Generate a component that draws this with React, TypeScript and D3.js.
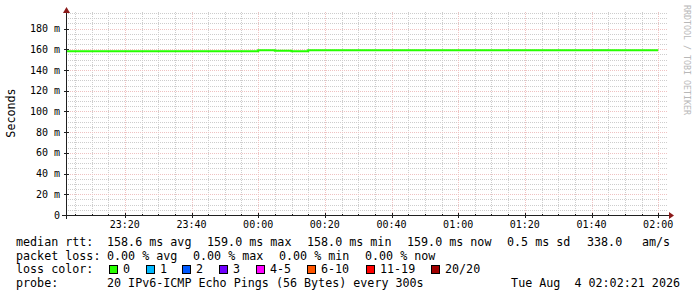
import React from "react";
import * as d3 from "d3";

// median rtt per 5 min step (ms), steps start 23:00 .. 01:55
const stepStarts = [
  "23:00", "23:05", "23:10", "23:15", "23:20", "23:25", "23:30", "23:35", "23:40", "23:45", "23:50", "23:55",
  "00:00", "00:05", "00:10", "00:15", "00:20", "00:25", "00:30", "00:35", "00:40", "00:45", "00:50", "00:55",
  "01:00", "01:05", "01:10", "01:15", "01:20", "01:25", "01:30", "01:35", "01:40", "01:45", "01:50", "01:55",
];
const medianRtt = [
  158.0, 158.0, 158.0, 158.0, 158.0, 158.0, 158.0, 158.0, 158.0, 158.0, 158.0, 158.0,
  159.0, 158.5, 158.0, 159.0, 159.0, 159.0, 159.0, 159.0, 159.0, 159.0, 159.0, 159.0,
  159.0, 159.0, 159.0, 159.0, 159.0, 159.0, 159.0, 159.0, 159.0, 159.0, 159.0, 159.0,
];
// upper edge of the smoke (ms)
const smokeTop = [
  158.0, 158.0, 158.0, 158.0, 158.0, 158.0, 158.0, 158.0, 158.0, 158.0, 158.0, 158.0,
  159.0, 158.5, 158.0, 159.0, 159.0, 159.0, 159.0, 159.0, 159.0, 159.0, 159.0, 159.0,
  159.0, 159.0, 159.0, 159.0, 159.0, 159.0, 159.0, 159.0, 160.2, 159.0, 159.0, 159.0,
];

const yTicks = [0, 20, 40, 60, 80, 100, 120, 140, 160, 180];
const xTickLabels = ["23:20", "23:40", "00:00", "00:20", "00:40", "01:00", "01:20", "01:40", "02:00"];

const lossLabels = ["0", "1", "2", "3", "4-5", "6-10", "11-19", "20/20"];
const lossColors = ["#26ff00", "#00b8ff", "#0059ff", "#7000ff", "#ff00ff", "#ff5500", "#ff0000", "#a10000"];

const rttStats = ["158.6 ms avg", "159.0 ms max", "158.0 ms min", "159.0 ms now", "0.5 ms sd", "338.0", "am/s"];
const lossStats = ["0.00 % avg", "0.00 % max", "0.00 % min", "0.00 % now"];

// helpers: "HH:MM" -> UTC date across midnight
const toDate = (hm: string, sec = 0) => {
  const [h, m] = hm.split(":").map(Number);
  const day = h >= 12 ? 3 : 4;
  return new Date(Date.UTC(2026, 7, day, h, m, sec));
};

const MONO = "'DejaVu Sans Mono', monospace";

export default function App() {
  const left = 66, right = 666, top = 12, bottom = 215;
  const x = d3.scaleUtc().domain([toDate("23:02", 21), toDate("02:02", 21)]).range([left, right]);
  const y = d3.scaleLinear().domain([0, 196]).range([bottom, top]);

  const minorX = d3.utcMinute.every(5)!.range(x.domain()[0], x.domain()[1]);
  const majorX = xTickLabels.map((l) => toDate(l));
  const minorY = d3.range(5, 196, 5).filter((v) => v % 20 !== 0);

  const pts = stepStarts.map((s, i) => ({ t: toDate(s), v: medianRtt[i], s: smokeTop[i] }));
  const endT = toDate("02:00");
  const clipX = (d: Date) => Math.max(left, x(d));

  const linePath = d3
    .line<{ t: Date; v: number }>()
    .x((d) => clipX(d.t))
    .y((d) => y(d.v))
    .curve(d3.curveStepAfter)([...pts, { t: endT, v: medianRtt[medianRtt.length - 1] }]);

  const smoke = pts.filter((p) => p.s > p.v + 0.1);

  const legendX = [107, 207, 307, 407, 507, 587, 642];
  const lossX = [107, 193, 279, 365];
  const boxX = [109, 146, 182, 219, 256, 307, 366, 431];

  return (
    <svg width={697} height={297} style={{ position: "absolute", left: 0, top: 0, background: "#fff" }}>
      <rect width={697} height={297} fill="#fff" />
      {/* minor grid */}
      <g stroke="#cdcdcd" strokeWidth={1} strokeDasharray="1,1" shapeRendering="crispEdges">
        {minorX.map((d, i) => (
          <line key={"vx" + i} x1={Math.round(x(d)) + 0.5} x2={Math.round(x(d)) + 0.5} y1={top} y2={bottom} />
        ))}
        {minorY.map((v) => (
          <line key={"hy" + v} x1={left} x2={668} y1={Math.round(y(v)) + 0.5} y2={Math.round(y(v)) + 0.5} />
        ))}
      </g>
      {/* major grid */}
      <g stroke="#efc2c2" strokeWidth={1} strokeDasharray="1,1" shapeRendering="crispEdges">
        {majorX.map((d, i) => (
          <line key={"mx" + i} x1={Math.round(x(d)) + 0.5} x2={Math.round(x(d)) + 0.5} y1={top} y2={bottom} />
        ))}
        {yTicks.slice(1).map((v) => (
          <line key={"my" + v} x1={left} x2={668} y1={Math.round(y(v)) + 0.5} y2={Math.round(y(v)) + 0.5} />
        ))}
      </g>
      {/* smoke */}
      {smoke.map((p, i) => (
        <rect key={"s" + i} x={clipX(p.t)} width={x(d3.utcMinute.offset(p.t, 5)) - clipX(p.t)}
          y={y(p.s)} height={y(p.v) - y(p.s)} fill="#c8c8c8" />
      ))}
      {/* median line */}
      <path d={linePath ?? ""} fill="none" stroke="#26ff00" strokeWidth={2} />
      {/* axes */}
      <g stroke="#202020" strokeWidth={1} shapeRendering="crispEdges">
        <line x1={62} x2={669} y1={bottom + 0.5} y2={bottom + 0.5} />
        <line x1={left + 0.5} x2={left + 0.5} y1={bottom + 4} y2={10} />
        {majorX.map((d, i) => (
          <line key={"tx" + i} x1={Math.round(x(d)) + 0.5} x2={Math.round(x(d)) + 0.5} y1={bottom - 2} y2={bottom + 3} />
        ))}
        {minorX.map((d, i) => (
          <line key={"tm" + i} x1={Math.round(x(d)) + 0.5} x2={Math.round(x(d)) + 0.5} y1={bottom - 1} y2={bottom + 1} />
        ))}
        {yTicks.map((v) => (
          <line key={"ty" + v} x1={left - 2} x2={left + 3} y1={Math.round(y(v)) + 0.5} y2={Math.round(y(v)) + 0.5} />
        ))}
      </g>
      <path d={`M669,${bottom - 3} L674,${bottom + 0.5} L669,${bottom + 4} Z`} fill="#8b1a1a" />
      <path d={`M${left - 3},13 L${left + 0.5},7 L${left + 4},13 Z`} fill="#8b1a1a" />
      {/* y labels */}
      <g fontFamily={MONO} fontSize={10} fill="#000" textAnchor="end">
        {yTicks.map((v) => (
          <text key={"yl" + v} x={60} y={y(v) + 3.5}>{v === 0 ? "0" : `${v} m`}</text>
        ))}
      </g>
      {/* x labels */}
      <g fontFamily={MONO} fontSize={10} fill="#000" textAnchor="middle">
        {majorX.map((d, i) => (
          <text key={"xl" + i} x={x(d)} y={228}>{xTickLabels[i]}</text>
        ))}
      </g>
      <text transform="translate(15,113) rotate(-90)" textAnchor="middle" fontFamily={MONO} fontSize={11.7} fill="#000">
        Seconds
      </text>
      <text transform="translate(684,5) rotate(90)" fontFamily={MONO} fontSize={8.3} fill="#b8b8b8">
        RRDTOOL / TOBI OETIKER
      </text>
      {/* legend */}
      <g fontFamily={MONO} fontSize={11.7} fill="#000">
        <text x={16} y={246}>median rtt:</text>
        {rttStats.map((s, i) => (
          <text key={"r" + i} x={legendX[i]} y={246}>{s}</text>
        ))}
        <text x={16} y={259.5}>packet loss:</text>
        {lossStats.map((s, i) => (
          <text key={"l" + i} x={lossX[i]} y={259.5}>{s}</text>
        ))}
        <text x={16} y={273}>loss color:</text>
        {lossLabels.map((s, i) => (
          <g key={"c" + i}>
            <rect x={boxX[i] + 0.5} y={265.5} width={8} height={8} fill={lossColors[i]} stroke="#000" strokeWidth={1} />
            <text x={boxX[i] + 14} y={273}>{s}</text>
          </g>
        ))}
        <text x={16} y={287}>probe:</text>
        <text x={107} y={287}>20 IPv6-ICMP Echo Pings (56 Bytes) every 300s</text>
        <text x={680} y={287} textAnchor="end" xmlSpace="preserve" style={{ whiteSpace: "pre" }}>
          {"Tue Aug  4 02:02:21 2026"}
        </text>
      </g>
    </svg>
  );
}
